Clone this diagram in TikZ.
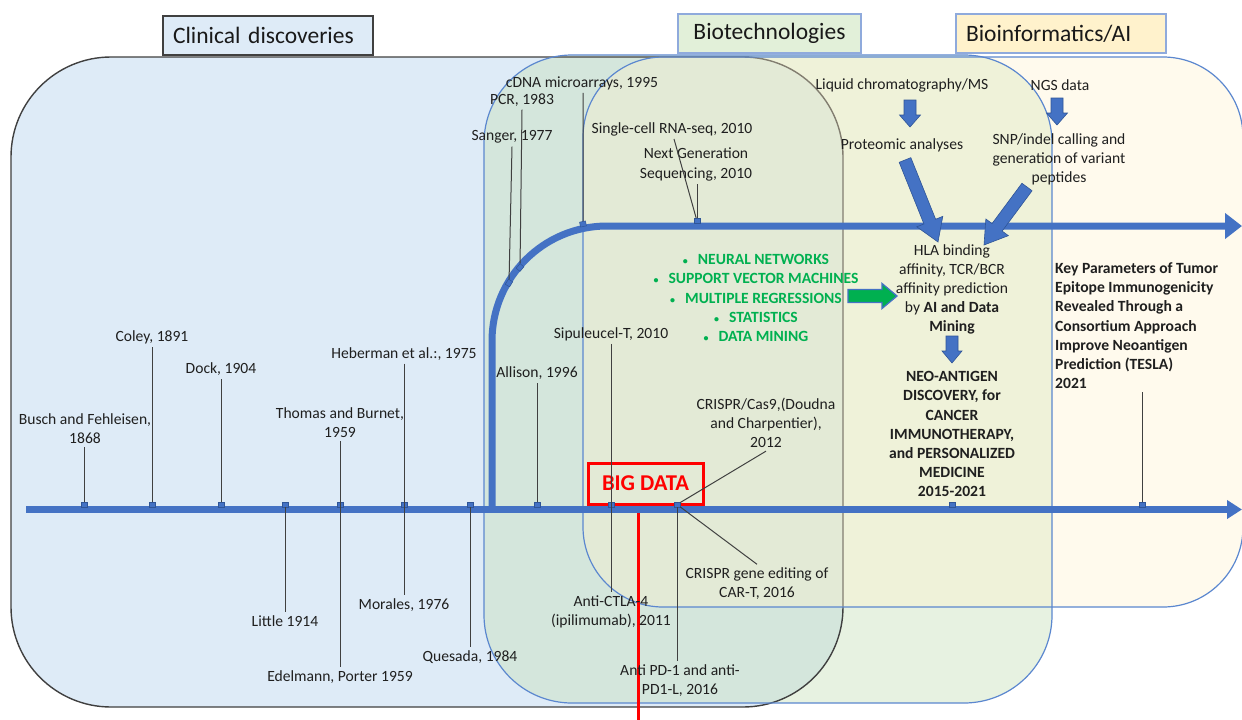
\documentclass[tikz,border=0pt]{standalone}
\usepackage{fontspec}
\setmainfont{Carlito}
\usetikzlibrary{arrows.meta,calc}

\definecolor{clinfill}{HTML}{DEEBF7}
\definecolor{biofill}{HTML}{C5E0B4}
\definecolor{infofill}{HTML}{FFF2CC}
\definecolor{hbiofill}{HTML}{E2F0D9}
\definecolor{edgedark}{HTML}{404040}
\definecolor{edgeblue}{HTML}{5B87CF}
\definecolor{hdredge}{HTML}{8FAADC}
\definecolor{tlblue}{HTML}{4472C4}
\definecolor{tldark}{HTML}{2F5597}
\definecolor{txt}{HTML}{1F1F1F}
\definecolor{mlgreen}{HTML}{00B050}
\definecolor{bigred}{HTML}{FF0000}

% block arrow from (#2-s) to (#2-e): #3 shaft half width, #4 head half width, #5 head length
\newcommand\blockarrow[5]{%
  \coordinate (#2-b) at ($(#2-e)!#5!(#2-s)$);
  \path[#1] ($(#2-s)!#3!90:(#2-e)$) -- ($(#2-b)!#3!90:(#2-e)$) -- ($(#2-b)!#4!90:(#2-e)$)
    -- (#2-e) -- ($(#2-b)!#4!-90:(#2-e)$) -- ($(#2-b)!#3!-90:(#2-e)$)
    -- ($(#2-s)!#3!-90:(#2-e)$) -- cycle;
}
% small bullet for the method list
\newcommand\mlbullet{{\fontsize{10}{10}\selectfont\textbullet}\hspace{10pt}}

\begin{document}
\begin{tikzpicture}[x=1pt,y=-1pt,
  lbl/.style={font=\fontsize{15.6}{19.2}\selectfont, text=txt, inner xsep=1pt, inner ysep=3pt, align=center},
  boldlbl/.style={lbl, font=\fontsize{15.6}{19.2}\selectfont\bfseries},
  hdr/.style={font=\fontsize{23.5}{28}\selectfont, text=black!90, inner xsep=10pt, inner ysep=0pt, minimum height=39pt},
  tmark/.style={rectangle, inner sep=0pt, minimum width=6pt, minimum height=5pt, fill=tlblue, draw=tldark, line width=0.5pt},
  conn/.style={draw=edgedark, line width=1pt},
  tline/.style={draw=tlblue},
  blk/.style={fill=tlblue, draw=tldark, line width=0.6pt},
  gblk/.style={fill=mlgreen, draw=tlblue, line width=1.3pt},
  mllist/.style={font=\fontsize{15.6}{19.2}\selectfont\bfseries, text=mlgreen, align=center, inner sep=0pt}
]
\useasboundingbox (0,0) rectangle (1242,720);
\fill[white] (0,0) rectangle (1242,720);
\clip (0,0) rectangle (1242,720);

% ---- overlapping domains ----
\fill[clinfill, rounded corners=100pt] (11,57) rectangle (843,707);
\fill[biofill, fill opacity=0.4, rounded corners=88pt] (484,55) rectangle (1052,703);
\draw[edgedark, line width=1.4pt, rounded corners=100pt] (11,57) rectangle (843,707);
\fill[infofill, fill opacity=0.35, rounded corners=80pt] (583,57) rectangle (1243,607);
\draw[edgeblue, line width=1.2pt, rounded corners=88pt] (484,55) rectangle (1052,703);
\draw[edgeblue, line width=1.2pt, rounded corners=80pt] (583,57) rectangle (1243,607);

% ---- domain headers ----
\node[hdr, fill=clinfill, draw=edgedark, line width=1.2pt, text width=190pt, align=left] (hclin) at (268,35.5) {Clinical discoveries};
\node[hdr, fill=hbiofill, draw=hdredge, line width=1.8pt, text width=163pt, align=center] (hbio) at (769.5,33.5) {Biotechnologies};
\node[hdr, fill=infofill, draw=hdredge, line width=1.8pt, text width=190pt, align=left] (hinf) at (1061,33.5) {Bioinformatics/AI};

% ---- big data marker line ----
\node[draw=bigred, line width=3pt, text=bigred, font=\fontsize{22.6}{27}\selectfont\bfseries,
      minimum width=115pt, minimum height=41pt, inner sep=0pt] (bigdata) at (645.5,483.5) {BIG DATA};
\coordinate (redend) at (638,722);
\draw[bigred, line width=3pt] ([xshift=-7.5pt,yshift=3pt]bigdata.south) -- (redend);

% ---- timelines ----
\coordinate (mstart) at (26,509.5);
\coordinate (mend) at (1242,509.5);
\draw[tline, line width=7.5pt, -{Triangle[length=15pt,width=18pt]}] (mstart) -- (mend);
\coordinate (ustart) at (492,508);
\coordinate (ucorner) at (492,226);
\coordinate (uend) at (1242,226);
\draw[tline, line width=7pt, rounded corners=115pt, -{Triangle[length=17pt,width=25pt]}] (ustart) -- (ucorner) -- (uend);

% BIG DATA frame drawn again over the timeline
\node[draw=bigred, line width=3pt, minimum width=115pt, minimum height=41pt, inner sep=0pt] at (bigdata) {};

% ---- tick marks ----
\node[tmark] (t-busch) at (84,504.5) {};
\node[tmark] (t-coley) at (152.5,504.5) {};
\node[tmark] (t-dock) at (221,504.5) {};
\node[tmark] (t-little) at (285,504.5) {};
\node[tmark] (t-thomas) at (340,504.5) {};
\node[tmark] (t-heber) at (404,504.5) {};
\node[tmark] (t-quesada) at (470,504.5) {};
\node[tmark] (t-allison) at (537,504.5) {};
\node[tmark] (t-sipu) at (611,504.5) {};
\node[tmark] (t-crispr) at (677,504.5) {};
\node[tmark] (t-neo) at (952,504.5) {};
\node[tmark] (t-tesla) at (1142,504.5) {};
\node[tmark, rotate=59] (t-sanger) at (509,283) {};
\node[tmark, rotate=50] (t-pcr) at (520,267.5) {};
\node[tmark, rotate=12] (t-cdna) at (583,224) {};
\node[tmark] (t-ngs) at (697,221) {};

% ---- milestones on the main line ----
\node[lbl] (busch) at (85,428.5) {Busch and Fehleisen,\\1868};
\node[lbl] (coley) at (152,337) {Coley, 1891};
\node[lbl] (dock) at (221,369) {Dock, 1904};
\node[lbl] (little) at (285,621) {Little 1914};
\node[lbl] (thomas) at (340,423) {Thomas and Burnet,\\1959};
\node[lbl] (edel) at (340,677) {Edelmann, Porter 1959};
\node[lbl] (heber) at (404,354) {Heberman et al.:, 1975};
\node[lbl] (morales) at (404,605) {Morales, 1976};
\node[lbl] (quesada) at (470,657) {Quesada, 1984};
\node[lbl] (allison) at (537,373) {Allison, 1996};
\node[lbl] (sipu) at (611,334) {Sipuleucel-T, 2010};
\node[lbl] (ctla) at (611,611.5) {Anti-CTLA-4\\(ipilimumab), 2011};
\node[lbl] (crispr9) at (766,423) {CRISPR/Cas9,(Doudna\\and Charpentier),\\2012};
\node[lbl] (crcart) at (757,583.5) {CRISPR gene editing of\\CAR-T, 2016};
\node[lbl] (pd1) at (680,680.5) {Anti PD-1 and anti-\\PD1-L, 2016};
\node[boldlbl, anchor=west, align=left, inner xsep=0pt] (tesla) at (1055,325.8)
  {Key Parameters of Tumor\\Epitope Immunogenicity\\Revealed Through a\\Consortium Approach\\Improve Neoantigen\\Prediction (TESLA)\\2021};

\draw[conn] (t-busch) -- (t-busch |- busch.south);
\draw[conn] (t-coley) -- (t-coley |- coley.south);
\draw[conn] (t-dock) -- (t-dock |- dock.south);
\draw[conn] (t-little) -- (t-little |- little.north);
\draw[conn] (t-thomas |- thomas.south) -- (t-thomas |- edel.north);
\draw[conn] (t-heber |- heber.south) -- (t-heber |- morales.north);
\draw[conn] (t-quesada) -- (t-quesada |- quesada.north);
\draw[conn] (t-allison) -- (t-allison |- allison.south);
\draw[conn] (t-sipu |- sipu.south) -- (t-sipu |- ctla.north);
\draw[conn] (crispr9.south) -- (t-crispr);
\draw[conn] (t-crispr) -- (crcart.north);
\draw[conn] (t-crispr) -- (t-crispr |- pd1.north);
\draw[conn] (t-tesla) -- (t-tesla |- tesla.south);

% ---- milestones on the upper line ----
\node[lbl] (sanger) at (512,137) {Sanger, 1977};
\node[lbl] (pcr) at (522,100) {PCR, 1983};
\node[lbl] (cdna) at (582,83) {cDNA microarrays, 1995};
\node[lbl] (scrna) at (672,129) {Single-cell RNA-seq, 2010};
\node[lbl] (ngsq) at (696,164.5) {Next Generation\\Sequencing, 2010};

\draw[conn] (sanger.south) -- (t-sanger);
\draw[conn] (pcr.south) -- (t-pcr);
\draw[conn] (t-cdna |- cdna.south) -- (t-cdna);
\draw[conn] ([xshift=2pt]scrna.south) -- (t-ngs);
\draw[conn] (t-ngs) -- (t-ngs |- ngsq.south);

% ---- data analysis flow ----
\node[lbl] (lcms) at (902,85) {Liquid chromatography/MS};
\node[lbl] (prot) at (902,145) {Proteomic analyses};
\node[lbl] (ngsd) at (1060,85) {NGS data};
\node[lbl] (snp) at (1059,159.5) {SNP/indel calling and\\generation of variant\\peptides};
\node[lbl] (hla) at (952,289.5) {HLA binding\\affinity, TCR/BCR\\affinity prediction\\by \textbf{AI and Data}\\\textbf{Mining}};
\node[boldlbl] (neo) at (952,434.2) {NEO-ANTIGEN\\DISCOVERY, for\\CANCER\\IMMUNOTHERAPY,\\and PERSONALIZED\\MEDICINE\\2015-2021};
\node[mllist] (ml) at (756,298) {%
  \mlbullet NEURAL NETWORKS\\
  \mlbullet SUPPORT VECTOR MACHINES\\
  \mlbullet MULTIPLE REGRESSIONS\\
  \mlbullet STATISTICS\\
  \mlbullet DATA MINING};

\coordinate (a1-s) at (910,100);  \coordinate (a1-e) at (910,127);
\coordinate (a2-s) at (1057,98);  \coordinate (a2-e) at (1057,125);
\coordinate (a3-s) at (905,160);  \coordinate (a3-e) at (938,242);
\coordinate (a4-s) at (1027,187); \coordinate (a4-e) at (984,245);
\coordinate (a5-s) at (952,336);  \coordinate (a5-e) at (952,363);
\coordinate (a6-s) at (848,296);  \coordinate (a6-e) at (897,296);
\blockarrow{blk}{a1}{6pt}{10.5pt}{12pt}
\blockarrow{blk}{a2}{6pt}{10.5pt}{12pt}
\blockarrow{blk}{a3}{6.3pt}{14pt}{22pt}
\blockarrow{blk}{a4}{6.3pt}{14pt}{22pt}
\blockarrow{blk}{a5}{6pt}{10pt}{12pt}
\blockarrow{gblk}{a6}{6.5pt}{12.5pt}{15pt}
\end{tikzpicture}
\end{document}
